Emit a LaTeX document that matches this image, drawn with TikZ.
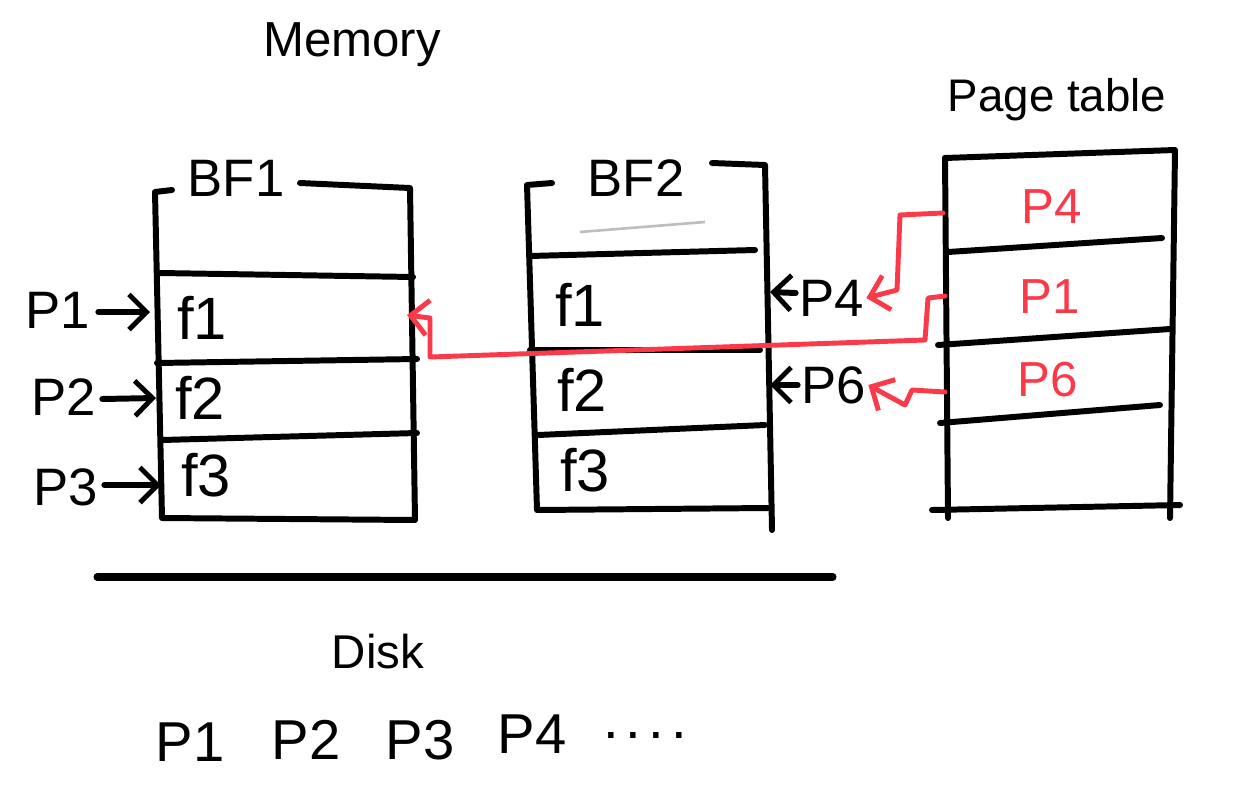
\documentclass[tikz,border=0pt]{standalone}
\usepackage{fontspec}
\setmainfont{Liberation Sans}
\usetikzlibrary{arrows.meta}
\definecolor{penred}{RGB}{250,58,72}
\definecolor{pengray}{RGB}{190,190,190}
\newcommand\handsize[1]{\fontsize{#1}{#1}\selectfont}
\tikzset{
  ink/.style={line width=3.4pt, line cap=round, line join=round},
  redink/.style={ink, draw=penred, line width=2.8pt},
  pointer/.style={ink, -{Straight Barb[length=10pt,width=20pt,line width=2.8pt]}},
  lbl/.style={inner sep=1pt, font=\handsize{30pt}},
  redlbl/.style={lbl, text=penred, font=\handsize{28pt}},
}

\begin{document}
\begin{tikzpicture}[x=0.02cm,y=-0.02cm]
    \useasboundingbox (0,0) rectangle (1253,788);

    \node[lbl, font=\handsize{28pt}] (mem) at (352,45) {Memory};
    \node[lbl, font=\handsize{26pt}] (ptab) at (1057,100) {Page table};

    % BF1
    \node[lbl] (bf1) at (236,178) {BF1};
    \draw[ink] (172,190) -- (155,192) -- (162,518) -- (415,520) -- (410,188) -- (300,183);
    \draw[ink] (160,273) -- (413,277);
    \draw[ink] (157,363) -- (417,359);
    \draw[ink] (162,440) -- (417,433);
    \node[lbl, font=\handsize{34pt}] (f1a) at (202,318) {f1};
    \node[lbl, font=\handsize{34pt}] (f2a) at (200,398) {f2};
    \node[lbl, font=\handsize{34pt}] (f3a) at (206,475) {f3};
    \coordinate (c1) at (150,312);
    \coordinate (c2) at (156,398);
    \coordinate (c3) at (161,485);
    \node[lbl] (p1) at (58,310) {P1};
    \node[lbl] (p2) at (64,397) {P2};
    \node[lbl] (p3) at (66,487) {P3};
    \draw[pointer] (p1.east) ++(6,2) -- (c1);
    \draw[pointer] (p2.east) ++(4,2) -- (c2);
    \draw[pointer] (p3.east) ++(4,-2) -- (c3);

    % BF2
    \node[lbl] (bf2) at (636,178) {BF2};
    \draw[ink] (552,183) -- (527,185) -- (537,510) -- (768,508);
    \draw[ink] (712,163) -- (765,165) -- (772,530);
    \draw[line width=1.5pt, pengray] (580,232) -- (705,222);
    \draw[ink] (530,256) -- (755,250);
    \draw[ink] (530,350) -- (760,350);
    \draw[ink] (538,435) -- (765,425);
    \node[lbl, font=\handsize{34pt}] (f1b) at (580,305) {f1};
    \node[lbl, font=\handsize{34pt}] (f2b) at (582,390) {f2};
    \node[lbl, font=\handsize{34pt}] (f3b) at (585,470) {f3};
    \coordinate (d1) at (770,292);
    \coordinate (d2) at (770,385);
    \node[lbl] (p4r) at (832,298) {P4};
    \node[lbl] (p6r) at (834,385) {P6};
    \draw[pointer] (p4r.west) ++(-2,-5) -- (d1);
    \draw[pointer] (p6r.west) ++(-2,0) -- (d2);

    % page table
    \draw[ink] (945,158) -- (1175,150) -- (1170,518);
    \draw[ink] (945,158) -- (948,518);
    \draw[ink] (932,510) -- (1180,505);
    \draw[ink] (948,252) -- (1162,238);
    \draw[ink] (938,345) -- (1170,329);
    \draw[ink] (940,423) -- (1160,405);
    \node[redlbl] (t4) at (1052,207) {P4};
    \node[redlbl] (t1) at (1050,297) {P1};
    \node[redlbl] (t6) at (1048,380) {P6};
    \coordinate (e4) at (943,213);
    \coordinate (e1) at (945,296);
    \coordinate (e6) at (945,392);
    \draw[pointer, redink] (e4) -- (900,215) -- (897,290) -- (p4r.east);
    \draw[pointer, redink] (e1) -- (928,298) -- (925,340) -- (430,357) -- (430,318) -- (407,315);
    \draw[pointer, redink] (e6) -- (912,390) -- (905,405) -- (p6r.east);

    % disk
    \draw[ink, line width=4pt] (97,577) -- (833,577);
    \node[lbl, font=\handsize{27pt}] (disk) at (378,652) {Disk};
    \node[lbl, font=\handsize{32pt}] (q1) at (190,742) {P1};
    \node[lbl, font=\handsize{32pt}] (q2) at (306,740) {P2};
    \node[lbl, font=\handsize{32pt}] (q3) at (420,740) {P3};
    \node[lbl, font=\handsize{32pt}] (q4) at (532,734) {P4};
    \node[lbl, font=\handsize{32pt}] (dots) at (645,735) {.\kern4pt.\kern4pt.\kern4pt.};
\end{tikzpicture}
\end{document}
